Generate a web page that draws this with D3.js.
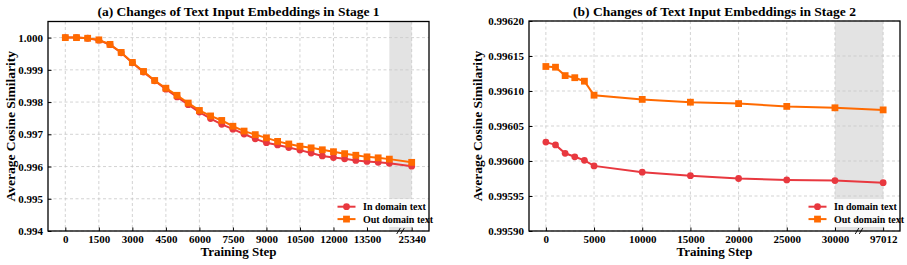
<!DOCTYPE html>
<html>
<head>
<meta charset="utf-8">
<script src="https://cdn.jsdelivr.net/npm/d3@7"></script>
<style>
  html, body { margin: 0; padding: 0; background: #fff; }
  svg { display: block; }
  text { font-family: "Liberation Serif", "DejaVu Serif", serif; font-weight: bold; fill: #000; }
</style>
</head>
<body>
<svg id="chart" width="907" height="265"></svg>
<script>
// ---------- DATA ----------
const steps1 = [0, 500, 1000, 1500, 2000, 2500, 3000, 3500, 4000, 4500, 5000, 5500, 6000, 6500, 7000,
  7500, 8000, 8500, 9000, 9500, 10000, 10500, 11000, 11500, 12000, 12500, 13000, 13500, 14000, 14500, 25340];
const inDomain1 = [1.00000, 1.00000, 0.99998, 0.99992, 0.99978, 0.99953, 0.99922, 0.99893, 0.99866, 0.99840,
  0.99816, 0.99792, 0.99769, 0.99749, 0.99731, 0.99716, 0.99701, 0.99686, 0.99674, 0.99667, 0.99659,
  0.99651, 0.99642, 0.99633, 0.99628, 0.99624, 0.99619, 0.99616, 0.99613, 0.99610, 0.99601];
const outDomain1 = [1.00000, 1.00000, 0.99998, 0.99993, 0.99979, 0.99954, 0.99923, 0.99895, 0.99867, 0.99843,
  0.99821, 0.99797, 0.99774, 0.99757, 0.99743, 0.99725, 0.99710, 0.99699, 0.99689, 0.99678, 0.99670,
  0.99663, 0.99658, 0.99652, 0.99646, 0.99640, 0.99635, 0.99630, 0.99627, 0.99623, 0.99613];
const xTicks1 = [0, 1500, 3000, 4500, 6000, 7500, 9000, 10500, 12000, 13500, 25340];
const yTicks1 = [0.994, 0.995, 0.996, 0.997, 0.998, 0.999, 1.000];

const steps2 = [0, 1000, 2000, 3000, 4000, 5000, 10000, 15000, 20000, 25000, 30000, 97012];
const inDomain2 = [0.996027, 0.996023, 0.996011, 0.996006, 0.996001, 0.995993, 0.995984, 0.995979,
  0.995975, 0.995973, 0.995972, 0.995969];
const outDomain2 = [0.996135, 0.996134, 0.996122, 0.996119, 0.996114, 0.996094, 0.996088, 0.996084,
  0.996082, 0.996078, 0.996076, 0.996073];
const xTicks2 = [0, 5000, 10000, 15000, 20000, 25000, 30000, 97012];
const yTicks2 = [0.99590, 0.99595, 0.99600, 0.99605, 0.99610, 0.99615, 0.99620];

const titles = ["(a) Changes of Text Input Embeddings in Stage 1", "(b) Changes of Text Input Embeddings in Stage 2"];
const seriesNames = ["In domain text", "Out domain text"];
const colors = ["#e8383f", "#ff6a00"];

// ---------- DRAW ----------
const svg = d3.select("#chart");

function panel(opt) {
  const {left, right, top, bottom, xDomain, xPos, yDomain, xTicks, yTicks, yFmt,
         steps, ins, outs, band, title, ylabX, legX} = opt;
  const g = svg.append("g");
  // piecewise x scale with a break
  const x = d3.scaleLinear().domain(xDomain).range(xPos.map(p => left + (p - xPos[0]) / (xPos[3] - xPos[0]) * (right - left)));
  const y = d3.scaleLinear().domain(yDomain).range([bottom, top]);

  // grey band
  g.append("rect").attr("x", x(band[0])).attr("y", top)
    .attr("width", x(band[1]) - x(band[0])).attr("height", bottom - top)
    .attr("fill", "#e3e3e3");

  // grid
  g.append("g").selectAll("line").data(xTicks).join("line")
    .attr("x1", d => x(d)).attr("x2", d => x(d)).attr("y1", top).attr("y2", bottom)
    .attr("stroke", "#c8c8c8").attr("stroke-width", 0.8).attr("stroke-dasharray", "3,2.5");
  g.append("g").selectAll("line").data(yTicks).join("line")
    .attr("x1", left).attr("x2", right).attr("y1", d => y(d)).attr("y2", d => y(d))
    .attr("stroke", "#c8c8c8").attr("stroke-width", 0.8).attr("stroke-dasharray", "3,2.5");

  // axes
  const xa = g.append("g").attr("transform", `translate(0,${bottom})`)
    .call(d3.axisBottom(x).tickValues(xTicks).tickSize(-3.5).tickPadding(4).tickFormat(d3.format("d")));
  const ya = g.append("g").attr("transform", `translate(${left},0)`)
    .call(d3.axisLeft(y).tickValues(yTicks).tickSize(-3.5).tickPadding(5).tickFormat(d3.format(yFmt)));
  [xa, ya].forEach(a => {
    a.select(".domain").remove();
    a.selectAll(".tick line").attr("stroke", "#000").attr("stroke-width", 1);
    a.selectAll("text").style("font-size", "11px").style("font-family", "Liberation Serif").style("font-weight", "bold");
  });

  // lines + markers
  const line = d3.line().x(d => x(d[0])).y(d => y(d[1]));
  const dIn = steps.map((s, i) => [s, ins[i]]);
  const dOut = steps.map((s, i) => [s, outs[i]]);
  g.append("path").datum(dIn).attr("d", line).attr("fill", "none").attr("stroke", colors[0]).attr("stroke-width", 2);
  g.append("g").selectAll("circle").data(dIn).join("circle")
    .attr("cx", d => x(d[0])).attr("cy", d => y(d[1])).attr("r", 3.4).attr("fill", colors[0]);
  g.append("path").datum(dOut).attr("d", line).attr("fill", "none").attr("stroke", colors[1]).attr("stroke-width", 2);
  g.append("g").selectAll("rect").data(dOut).join("rect")
    .attr("x", d => x(d[0]) - 3.4).attr("y", d => y(d[1]) - 3.4).attr("width", 6.8).attr("height", 6.8).attr("fill", colors[1]);

  // frame
  g.append("rect").attr("x", left).attr("y", top).attr("width", right - left).attr("height", bottom - top)
    .attr("fill", "none").attr("stroke", "#000").attr("stroke-width", 1.3);

  // break marks
  const bx = (x(band[0]) + x(band[1])) / 2;
  [-2, 2].forEach(dx => {
    g.append("line").attr("x1", bx + dx - 1.8).attr("y1", bottom + 3).attr("x2", bx + dx + 1.8).attr("y2", bottom - 3)
      .attr("stroke", "#000").attr("stroke-width", 0.9);
  });

  // legend
  const lg = g.append("g");
  lg.append("rect").attr("x", legX - 5).attr("y", 199).attr("width", right - 3 - (legX - 5)).attr("height", 28)
    .attr("fill", "#fff").attr("fill-opacity", 0.8);
  [0, 1].forEach(i => {
    const yy = 206.7 + i * 12.4;
    lg.append("line").attr("x1", legX).attr("x2", legX + 18).attr("y1", yy).attr("y2", yy)
      .attr("stroke", colors[i]).attr("stroke-width", 2);
    if (i === 0) lg.append("circle").attr("cx", legX + 9).attr("cy", yy).attr("r", 3.4).attr("fill", colors[0]);
    else lg.append("rect").attr("x", legX + 9 - 3.4).attr("y", yy - 3.4).attr("width", 6.8).attr("height", 6.8).attr("fill", colors[1]);
    lg.append("text").attr("x", legX + 25.5).attr("y", yy + 3.4).style("font-size", "10px").text(seriesNames[i]);
  });

  // titles
  g.append("text").attr("x", (left + right) / 2).attr("y", 15.5).attr("text-anchor", "middle")
    .style("font-size", "13.5px").text(title);
  g.append("text").attr("x", (left + right) / 2).attr("y", 256).attr("text-anchor", "middle")
    .style("font-size", "13px").text("Training Step");
  g.append("text").attr("transform", `translate(${ylabX},${(top + bottom) / 2}) rotate(-90)`)
    .attr("text-anchor", "middle").style("font-size", "13.5px").text("Average Cosine Similarity");
}

panel({
  left: 48, right: 429, top: 21.5, bottom: 231,
  xDomain: [-775, 14500, 25340, 26115], xPos: [-775, 14500, 15500, 16275],
  yDomain: [0.994, 1.0005], xTicks: xTicks1, yTicks: yTicks1, yFmt: ".3f",
  steps: steps1, ins: inDomain1, outs: outDomain1, band: [14500, 25340],
  title: titles[0], ylabX: 15, legX: 337.5
});

panel({
  left: 529, right: 900, top: 21, bottom: 231,
  xDomain: [-1750, 30000, 97012, 98762], xPos: [-1750, 30000, 35000, 36750],
  yDomain: [0.99590, 0.99620], xTicks: xTicks2, yTicks: yTicks2, yFmt: ".5f",
  steps: steps2, ins: inDomain2, outs: outDomain2, band: [30000, 97012],
  title: titles[1], ylabX: 482, legX: 808.5
});
</script>
</body>
</html>
